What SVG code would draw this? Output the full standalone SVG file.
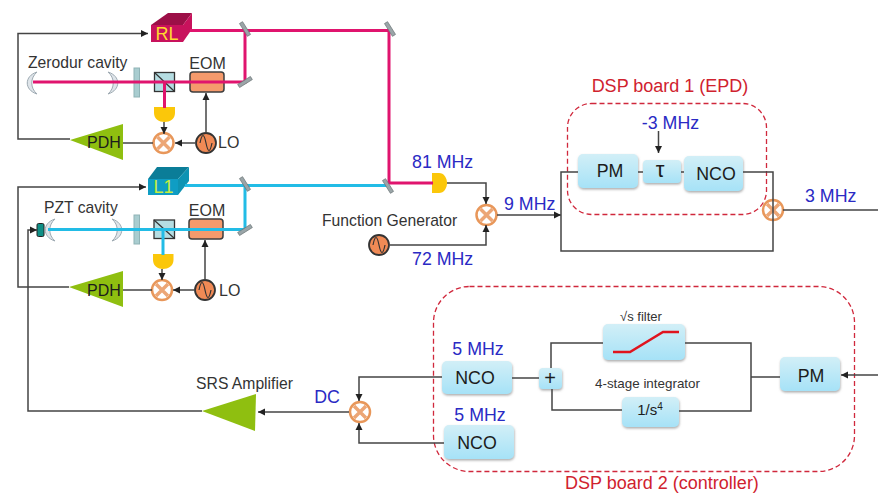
<svg xmlns="http://www.w3.org/2000/svg" width="878" height="493" viewBox="0 0 878 493">
<style>
text{font-family:"Liberation Sans",Arial,sans-serif;font-size:15.700px;fill:#333}
.b{fill:#2a2ac4;font-size:17.800px}
.r{fill:#d0222e;font-size:18px}
.k{fill:#1c1c1c;font-size:17.800px}
.s{font-size:16px}
.w{fill:none;stroke:#444;stroke-width:1.5}
.a{marker-end:url(#arr)}
.pink{fill:none;stroke:#e0146e;stroke-width:3}
.cyan{fill:none;stroke:#22bce6;stroke-width:3}
.dash{fill:none;stroke:#d0283c;stroke-width:1.3;stroke-dasharray:5 3}
.box{fill:url(#bg);filter:url(#sh)}
.mir{fill:#9aa5a8;stroke:#6d7678;stroke-width:.7}
.cav{fill:#dfe5ea;stroke:#9eaab2;stroke-width:1}
.wp{fill:#a9cdd0;stroke:#8fb3b6}
.bs{fill:#b5dde2;stroke:#333;stroke-width:1.3}
.eom{fill:#f59a6c;stroke:#3e3e3e;stroke-width:1.5}
.pd{fill:#fbc70a}
.amp{fill:#8fbf10}
.mixc{fill:#fff;stroke:#e8975a;stroke-width:2.500}
.mixx{stroke:#eca676;stroke-width:3.500}
.lo{fill:#f08a55;stroke:#333;stroke-width:1.800}
.lw{fill:none;stroke:#333;stroke-width:1.200}
</style>
<defs>
<linearGradient id="bg" x1="0" y1="0" x2="0" y2="1"><stop offset="0" stop-color="#d2eff7"/><stop offset="1" stop-color="#a6e2f7"/></linearGradient>
<filter id="sh" x="-15%" y="-15%" width="130%" height="140%"><feDropShadow dx="0.5" dy="1.5" stdDeviation="1.2" flood-color="#777" flood-opacity=".6"/></filter>
<marker id="arr" markerWidth="8" markerHeight="8" refX="7" refY="4" orient="auto" markerUnits="userSpaceOnUse"><path d="M0 .5L7 4L0 7.5z" fill="#222"/></marker>
<g id="mixer"><circle r="10" class="mixc"/><path class="mixx" d="M-6-6L6 6M-6 6L6-6"/></g>
<g id="osc"><circle r="10" class="lo"/><path class="lw" d="M-6 0C-4-10-2-10 0 0S4 10 6 0"/></g>
<path id="cavL" class="cav" d="M10-11C-3-7-3 7 10 11C3 5 3-5 10-11z"/>
<path id="cavR" class="cav" d="M0-11C13-7 13 7 0 11C7 5 7-5 0-11z"/>
<rect id="mirror" class="mir" x="-1.8" y="-7.5" width="3.6" height="15" transform="rotate(-32)"/>
<rect id="mirror2" class="mir" x="-1.8" y="-7.5" width="3.6" height="15" transform="rotate(58)"/>
</defs>
<rect width="878" height="493" fill="#fff"/>

<g id="dsp-board-1"><rect class="dash" x="567.500" y="103.500" width="199" height="111" rx="24"/><text class="r" x="670" y="92" text-anchor="middle">DSP board 1 (EPD)</text></g>
<g id="dsp-board-2"><rect class="dash" x="433.500" y="286.500" width="421" height="185" rx="36"/><text class="r" x="662" y="488.500" text-anchor="middle">DSP board 2 (controller)</text></g>

<g id="rl"><path d="M151 25L168 13H192L183 25z" fill="#9c0f47"/><path d="M183 25L192 13V29L183 42z" fill="#c8125c"/><rect x="151" y="25" width="32" height="17" fill="#c8125c"/><text x="167" y="39.500" text-anchor="middle" style="fill:#ffd92e;font-size:18px">RL</text></g>
<g id="zerodur-cavity"><use href="#cavL" x="27" y="83"/><use href="#cavR" x="108" y="83"/><text x="28" y="68">Zerodur cavity</text></g>
<g id="wp-1"><rect class="wp" x="134" y="68" width="5.500" height="29"/></g>
<g id="bs-1"><rect class="bs" x="154.500" y="72.500" width="20" height="19"/><path class="lw" d="M154.500 72.500L174.500 91.500"/></g>
<g id="eom-1"><rect class="eom" x="190" y="72" width="34" height="20" rx="3"/><text class="s" x="207.500" y="68.500" text-anchor="middle">EOM</text></g>
<g id="pd-1"><path class="pd" d="M154 107H175V113C175 119 170 122 164.500 122S154 119 154 113z"/></g>
<g id="mix-1"><use href="#mixer" x="163.500" y="143"/></g>
<g id="lo-1"><use href="#osc" x="206" y="143"/><text class="s" x="218" y="148">LO</text></g>
<g id="pdh-1"><path class="amp" d="M70 140L123 124V160z"/><text class="s" style="fill:#1c1c1c" x="87" y="148">PDH</text></g>

<g id="l1"><path d="M148 179L157 167H189L178 179z" fill="#0b7d98"/><path d="M178 179L189 167V181L178 195z" fill="#0e93b3"/><rect x="148" y="179" width="30" height="16" fill="#0f9dc4"/><text x="163.500" y="192.500" text-anchor="middle" style="fill:#c6ee3c;font-size:18px">L1</text></g>
<g id="pzt-cavity"><rect x="37" y="223.500" width="7" height="13" rx="1.500" fill="#0f8f86" stroke="#222"/><use href="#cavL" x="45" y="230"/><use href="#cavR" x="112" y="230"/><text x="44" y="213">PZT cavity</text></g>
<g id="wp-2"><rect class="wp" x="134" y="215" width="5.500" height="29"/></g>
<g id="bs-2"><rect class="bs" x="154" y="220" width="20.500" height="18.500"/><path class="lw" d="M154 220L174.500 238.500"/></g>
<g id="eom-2"><rect class="eom" x="189" y="219" width="34" height="20" rx="3"/><text class="s" x="207" y="215.500" text-anchor="middle">EOM</text></g>
<g id="pd-2"><path class="pd" d="M153 254H173.500V260C173.500 266 168 269 163 269S153 266 153 260z"/></g>
<g id="mix-2"><use href="#mixer" x="162" y="290"/></g>
<g id="lo-2"><use href="#osc" x="205" y="290"/><text class="s" x="219" y="295.500">LO</text></g>
<g id="pdh-2"><path class="amp" d="M69 287L123 271V307z"/><text class="s" style="fill:#1c1c1c" x="87" y="295.500">PDH</text></g>

<g id="pd-3"><path class="pd" d="M432 173H439C444 173 447 178 447 183S444 193 439 193H432z"/><text class="b" x="412" y="168">81 MHz</text></g>
<g id="mix-3"><use href="#mixer" x="486.500" y="215"/><text class="b" x="504" y="210">9 MHz</text></g>
<g id="function-generator"><use href="#osc" x="379" y="245"/><text x="322" y="226">Function Generator</text><text class="b" x="412" y="265">72 MHz</text></g>
<g id="pm-1"><rect class="box" x="578" y="154" width="60" height="34" rx="5"/><text class="k" x="610" y="177" text-anchor="middle">PM</text></g>
<g id="tau"><rect class="box" x="643" y="160" width="38" height="23" rx="4"/><text class="k" x="660" y="177" text-anchor="middle" style="font-size:22px">τ</text></g>
<g id="nco-1"><rect class="box" x="684" y="156" width="59" height="35" rx="5"/><text class="k" x="716" y="180" text-anchor="middle">NCO</text></g>
<text class="b" x="670.500" y="129" text-anchor="middle" id="minus-3">-3 MHz</text>
<g id="mix-4"><use href="#mixer" x="773" y="210"/><text class="b" x="805" y="201.500">3 MHz</text></g>

<g id="pm-2"><rect class="box" x="780" y="357" width="60" height="34" rx="5"/><text class="k" x="811" y="382" text-anchor="middle">PM</text></g>
<g id="filter"><rect class="box" x="603" y="324" width="82" height="36" rx="5"/><path d="M613 352H630L663 332H679" fill="none" stroke="#e0141e" stroke-width="2.500"/><text x="641" y="321" text-anchor="middle" style="font-size:13px">√s filter</text></g>
<g id="integrator"><rect class="box" x="622" y="397" width="57" height="30" rx="5"/><text class="k" x="650" y="415" text-anchor="middle" style="font-size:15px">1/s<tspan dy="-5" style="font-size:10px">4</tspan></text><text x="647.500" y="388" text-anchor="middle" style="font-size:13.400px">4-stage integrator</text></g>
<g id="sum"><rect class="box" x="539" y="368" width="23" height="21" rx="4"/><text class="k" x="550" y="385" text-anchor="middle" style="font-size:20px">+</text></g>
<g id="nco-2"><rect class="box" x="442" y="361" width="70" height="33" rx="5"/><text class="k" x="475" y="384" text-anchor="middle">NCO</text><text class="b" x="478" y="355" text-anchor="middle">5 MHz</text></g>
<g id="nco-3"><rect class="box" x="444" y="425" width="70" height="34" rx="5"/><text class="k" x="477" y="449" text-anchor="middle">NCO</text><text class="b" x="480" y="420.500" text-anchor="middle">5 MHz</text></g>
<g id="mix-5"><use href="#mixer" x="360" y="412"/><text class="b" x="327" y="402.500" text-anchor="middle">DC</text></g>
<g id="srs"><path class="amp" d="M202 411L256 394L255 431z"/><text x="244.500" y="389" text-anchor="middle">SRS Amplifier</text></g>

<g id="connectors">
<path class="w a" d="M70 139H18V33.500H148"/>
<path class="w" d="M123 143H153"/>
<path class="w a" d="M195 143H175"/>
<path class="w a" d="M206 133V93"/>
<path class="w a" d="M164 122V134"/>
<path class="w a" d="M69 287H18V187H146"/>
<path class="w" d="M123 290H152"/>
<path class="w a" d="M195 290H173"/>
<path class="w a" d="M205 280V240"/>
<path class="w a" d="M162 269V280"/>
<path class="w a" d="M202 411H28V230H37"/>
<path class="pink" d="M190 30.500H389V183H433"/>
<path class="pink" d="M245 30.500V82H33"/>
<path class="pink" d="M164.500 82V108"/>
<path class="cyan" d="M185 185.500H388"/>
<path class="cyan" d="M245 185.500V229.500H48"/>
<path class="cyan" d="M163 229.500V255"/>
<path class="w a" d="M447 183H486V204"/>
<path class="w a" d="M389 245H486V225"/>
<path class="w a" d="M497 215H561"/>
<path class="w" d="M578 172H561V251H773V172H743"/>
<path class="w" d="M638 172H643M681 172H684"/>
<path class="w" d="M783 210H878"/>
<path class="w a" d="M658.500 131V153"/>
<path class="w a" d="M878 375H841"/>
<path class="w" d="M780 377H751V343H685M603 343H551V368M552 389V410H622M679 411H751V377"/>
<path class="w" d="M512 378H539"/>
<path class="w a" d="M442 377H359V401"/>
<path class="w a" d="M444 443H359V423"/>
<path class="w a" d="M349 412H258"/>
</g>

<use id="mirror-1" href="#mirror" x="245" y="29"/>
<use id="mirror-2" href="#mirror2" x="245" y="82"/>
<use id="mirror-3" href="#mirror" x="390" y="29"/>
<use id="mirror-4" href="#mirror" x="245" y="184"/>
<use id="mirror-5" href="#mirror2" x="245" y="230"/>
<use id="mirror-6" href="#mirror" x="388" y="186"/>
</svg>
